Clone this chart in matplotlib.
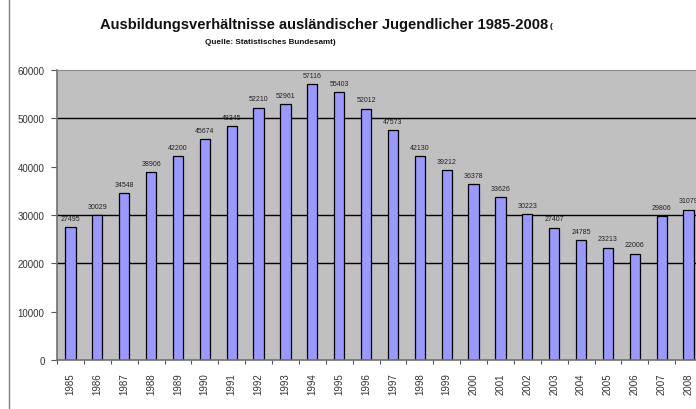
import matplotlib
matplotlib.use("Agg")
import matplotlib.pyplot as plt
from matplotlib.lines import Line2D
import numpy as np

plt.rcParams['font.family'] = ['Liberation Sans', 'DejaVu Sans']

jahre = ['1985', '1986', '1987', '1988', '1989', '1990', '1991', '1992',
         '1993', '1994', '1995', '1996', '1997', '1998', '1999', '2000',
         '2001', '2002', '2003', '2004', '2005', '2006', '2007', '2008']
werte = [27495, 30029, 34548, 38906, 42200, 45674, 48345, 52210,
         52961, 57116, 55403, 52012, 47573, 42130, 39212, 36378,
         33626, 30223, 27407, 24785, 23213, 22006, 29806, 31079]
y_ticks = [0, 10000, 20000, 30000, 40000, 50000, 60000]
# im Bild sichtbare Gitterlinien
gitter = [20000, 30000, 50000]

fig = plt.figure(figsize=(6.96, 4.10), dpi=100)
ax = fig.add_axes([57 / 696, 1 - 361 / 410, 645 / 696, 290 / 410])
ax.set_facecolor('#c0c0c0')

x = np.arange(len(jahre))
for g in gitter:
    ax.axhline(g, color='black', lw=1, zorder=1)
ax.bar(x, werte, width=0.38, color='#9999ff', edgecolor='black', lw=0.9, zorder=2)

for xi, v in zip(x, werte):
    ax.text(xi, v + 1100, str(v), ha='center', va='bottom', fontsize=5,
            color='#222222', zorder=3)

ax.set_xlim(-0.5, len(jahre) - 0.5)
ax.set_ylim(0, 60000)
ax.set_yticks(y_ticks)
ax.set_yticklabels([str(t) for t in y_ticks], fontsize=7, color='#333333')
ax.tick_params(axis='y', direction='out', length=4, width=0.8, color='#555555', pad=5)

ax.set_xticks(x)
ax.set_xticklabels(jahre, rotation=90, fontsize=7, color='#333333')
ax.set_xticks(np.arange(-0.5, len(jahre), 1), minor=True)
ax.tick_params(axis='x', which='major', length=0, pad=9)
ax.tick_params(axis='x', which='minor', direction='out', length=3, width=0.8, color='#555555')

for s in ['left', 'bottom']:
    ax.spines[s].set_color('#707070')
    ax.spines[s].set_linewidth(1.2)
ax.spines['top'].set_color('#8a8a8a')
ax.spines['top'].set_linewidth(0.8)
ax.spines['right'].set_visible(False)

fig.text(324 / 696, 1 - 25 / 410, 'Ausbildungsverhältnisse ausländischer Jugendlicher 1985-2008',
         ha='center', va='center', fontsize=10.6, fontweight='bold', color='#111111')
fig.text(550 / 696, 1 - 27 / 410, '(', ha='left', va='center', fontsize=6,
         fontweight='bold', color='#111111')
fig.text(270 / 696, 1 - 42 / 410, 'Quelle: Statistisches Bundesamt)',
         ha='center', va='center', fontsize=5.9, fontweight='bold', color='#111111')

fig.add_artist(Line2D([8.5 / 696, 8.5 / 696], [0, 1], color='#808080', lw=1))

fig.savefig('out.png', dpi=100)
